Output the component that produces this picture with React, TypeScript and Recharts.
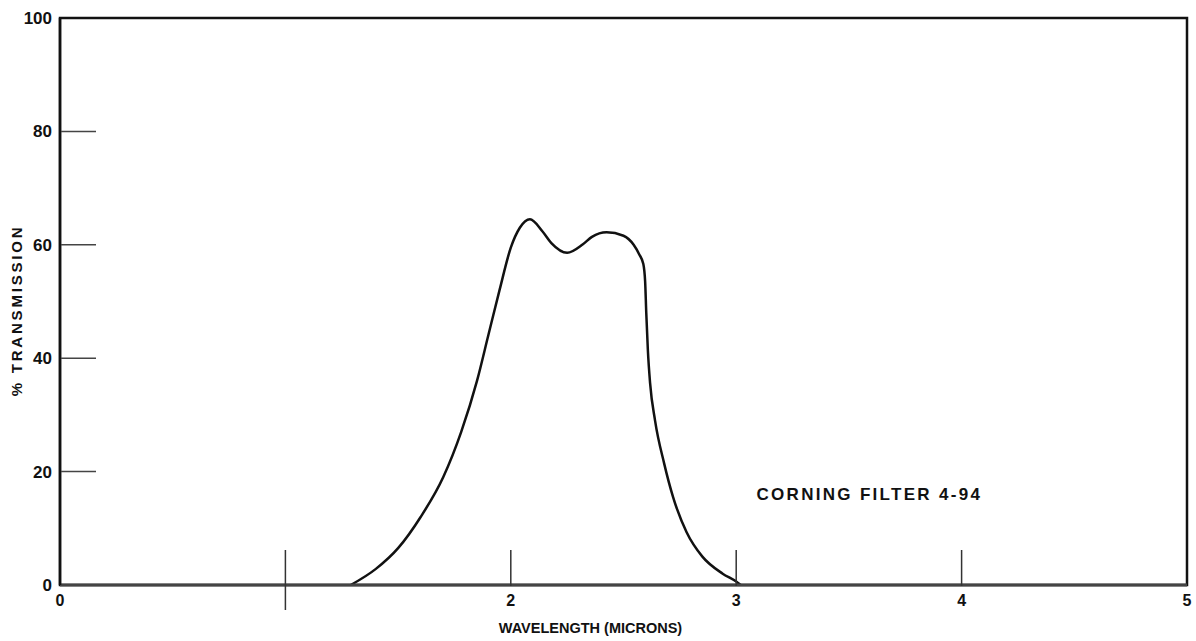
import React from "react";
import {
  LineChart,
  Line,
  XAxis,
  YAxis,
  ReferenceArea,
  ReferenceDot,
} from "recharts";

// wavelength in microns
const wavelength = [
  1.29, 1.4, 1.5, 1.6, 1.7, 1.78, 1.85, 1.9, 1.95, 2.0, 2.04, 2.085, 2.14,
  2.18, 2.25, 2.32, 2.36, 2.425, 2.5, 2.545, 2.57, 2.588, 2.596, 2.601, 2.608,
  2.618, 2.64, 2.68, 2.72, 2.78, 2.85, 2.94, 3.0, 3.02,
];
// % transmission at each wavelength
const transmission = [
  0, 2.8, 6.5, 12.0, 19.0, 27.0, 36.0, 44.0, 52.0, 59.5, 63.0, 64.5, 62.4,
  60.3, 58.6, 60.1, 61.4, 62.2, 61.6, 60.0, 58.3, 56.6, 53.5, 48.0, 41.5, 35.6,
  29.0, 21.5, 15.5, 9.3, 5.0, 2.0, 0.6, 0,
];

const xTicks = [0, 1, 2, 3, 4, 5];
const yTicks = [0, 20, 40, 60, 80, 100];

const data = wavelength.map((w, i) => ({ w, t: transmission[i] }));

const FONT = "'Liberation Sans', Arial, sans-serif";
const INK = "#111";

const YTick = (props: any) => {
  const { x, y, payload } = props;
  const v = payload.value;
  return (
    <g>
      {v > 0 && v < 100 && (
        <line x1={x + 1} x2={x + 36} y1={y} y2={y} stroke="#444" strokeWidth={1.5} />
      )}
      <text
        x={x - 8}
        y={y}
        dy={6}
        textAnchor="end"
        fontFamily={FONT}
        fontWeight={700}
        fontSize={17}
        fill={INK}
      >
        {v}
      </text>
    </g>
  );
};

const XTick = (props: any) => {
  const { x, y, payload } = props;
  const v = payload.value;
  return (
    <g>
      {v > 0 && v < 5 && (
        <line
          x1={x}
          x2={x}
          y1={y - 35}
          y2={v === 1 ? y + 25 : y + 1}
          stroke="#333"
          strokeWidth={1.5}
        />
      )}
      {v !== 1 && (
        <text
          x={x}
          y={y + 21}
          textAnchor="middle"
          fontFamily={FONT}
          fontWeight={700}
          fontSize={16}
          fill={INK}
        >
          {v}
        </text>
      )}
    </g>
  );
};

export default function App() {
  return (
    <div style={{ position: "fixed", left: 0, top: 0, width: 1196, height: 641, background: "#fff" }}>
      <LineChart
        width={1196}
        height={641}
        data={data}
        margin={{ top: 18, right: 9, left: 0, bottom: 0 }}
      >
        <XAxis
          dataKey="w"
          type="number"
          domain={[0, 5]}
          ticks={xTicks}
          interval={0}
          height={56}
          tickSize={0}
          tickMargin={0}
          tick={<XTick />}
          axisLine={{ stroke: "#444", strokeWidth: 3 }}
          label={{
            value: "WAVELENGTH (MICRONS)",
            position: "insideBottom",
            offset: 8,
            dx: -33,
            style: { fontFamily: FONT, fontWeight: 700, fontSize: 14.5, fill: INK },
          }}
        />
        <YAxis
          type="number"
          domain={[0, 100]}
          ticks={yTicks}
          interval={0}
          width={60}
          tickSize={0}
          tickMargin={0}
          tick={<YTick />}
          axisLine={{ stroke: INK, strokeWidth: 2.5 }}
          label={{
            value: "% TRANSMISSION",
            angle: -90,
            position: "insideLeft",
            offset: 17,
            dy: 9,
            style: {
              fontFamily: FONT,
              fontWeight: 700,
              fontSize: 15,
              letterSpacing: 2.8,
              fill: INK,
              textAnchor: "middle",
            },
          }}
        />
        <ReferenceArea
          x1={0}
          x2={5}
          y1={0}
          y2={100}
          fill="none"
          stroke={INK}
          strokeWidth={2.5}
          ifOverflow="visible"
        />
        <ReferenceDot
          x={3.09}
          y={16}
          r={0}
          fill="none"
          stroke="none"
          label={{
            value: "CORNING FILTER 4-94",
            position: "right",
            offset: 0,
            style: {
              fontFamily: FONT,
              fontWeight: 700,
              fontSize: 17,
              letterSpacing: 2.3,
              fill: INK,
            },
          }}
        />
        <Line
          type="monotone"
          dataKey="t"
          stroke={INK}
          strokeWidth={2.5}
          dot={false}
          activeDot={false}
          isAnimationActive={false}
        />
      </LineChart>
    </div>
  );
}
